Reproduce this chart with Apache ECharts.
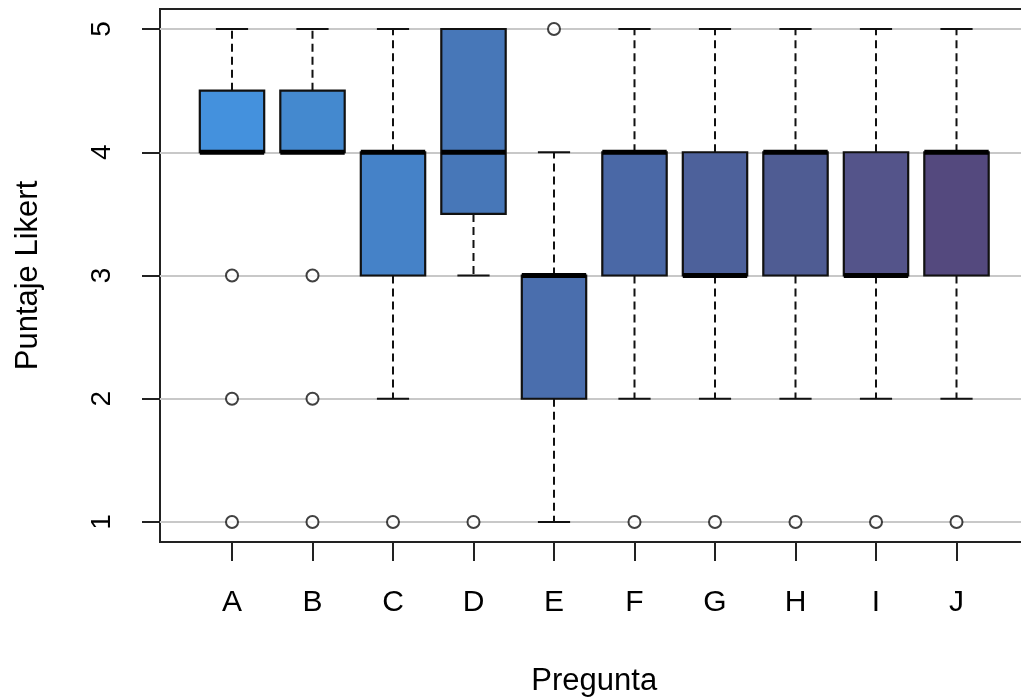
<!DOCTYPE html>
<html lang="en">
  <head>
    <meta charset="UTF-8" />
    <title>Puntaje Likert por pregunta</title>
    <script src="https://cdn.jsdelivr.net/npm/echarts@6.0.0/dist/echarts.min.js"></script>
    <style>
      html, body { margin: 0; padding: 0; background: #fff; }
    </style>
  </head>
  <body>
    <div id="main" style="width: 1021px; height: 698px"></div>
    <script type="text/javascript">
      // Boxplot stats
      const categories = ['A', 'B', 'C', 'D', 'E', 'F', 'G', 'H', 'I', 'J'];
      const whiskerLow = [4, 4, 2, 3, 1, 2, 2, 2, 2, 2];
      const q1 = [4, 4, 3, 3.5, 2, 3, 3, 3, 3, 3];
      const median = [4, 4, 4, 4, 3, 4, 3, 4, 3, 4];
      const q3 = [4.5, 4.5, 4, 5, 3, 4, 4, 4, 4, 4];
      const whiskerHigh = [5, 5, 5, 5, 4, 5, 5, 5, 5, 5];
      const outliers = [[3, 2, 1], [3, 2, 1], [1], [1], [5], [1], [1], [1], [1], [1]];
      const boxColors = ['#4491dd', '#4489cf', '#4582c8', '#4777b8', '#4a6ead',
                         '#4a68a6', '#4d619b', '#4f5c93', '#54548a', '#54497e'];
      const yTicks = [1, 2, 3, 4, 5];

      const font = 'Liberation Sans, Arial, sans-serif';
      let myChart = echarts.init(document.getElementById('main'));

      const boxData = categories.map((c, i) =>
        [i, whiskerLow[i], q1[i], median[i], q3[i], whiskerHigh[i]]);
      const outlierData = [];
      outliers.forEach((arr, i) => arr.forEach(v => outlierData.push([i, v])));

      function renderBox(params, api) {
        const i = api.value(0);
        const band = api.size([1, 0])[0];
        const hw = band * 0.4;
        const sw = hw * 0.5;
        const x = api.coord([i, 0])[0];
        const yLo = api.coord([i, api.value(1)])[1];
        const yQ1 = api.coord([i, api.value(2)])[1];
        const yMed = api.coord([i, api.value(3)])[1];
        const yQ3 = api.coord([i, api.value(4)])[1];
        const yHi = api.coord([i, api.value(5)])[1];
        const dashed = { stroke: '#111', lineWidth: 2, lineDash: [8, 5] };
        const solid = { stroke: '#111', lineWidth: 2 };
        return {
          type: 'group',
          children: [
            { type: 'line', shape: { x1: x, y1: yQ3, x2: x, y2: yHi }, style: dashed },
            { type: 'line', shape: { x1: x, y1: yQ1, x2: x, y2: yLo }, style: dashed },
            { type: 'line', shape: { x1: x - sw, y1: yHi, x2: x + sw, y2: yHi }, style: solid },
            { type: 'line', shape: { x1: x - sw, y1: yLo, x2: x + sw, y2: yLo }, style: solid },
            {
              type: 'rect',
              shape: { x: x - hw, y: yQ3, width: hw * 2, height: yQ1 - yQ3 },
              style: { fill: boxColors[i], stroke: '#111', lineWidth: 2.2 }
            },
            {
              type: 'line',
              shape: { x1: x - hw, y1: yMed, x2: x + hw, y2: yMed },
              style: { stroke: '#000', lineWidth: 5 }
            }
          ]
        };
      }

      let options = {
        animation: false,
        grid: [
          // boxes
          { left: 191.75, top: 29, width: 805, height: 493, outerBoundsMode: 'none' },
          // y axis + gridlines
          { left: 160, top: 29, width: 869, height: 493, outerBoundsMode: 'none' },
          // frame (R box)
          { left: 160, top: 9, width: 869, height: 533, show: true, outerBoundsMode: 'none',
            borderColor: '#222', borderWidth: 2, backgroundColor: 'transparent' }
        ],
        xAxis: [
          {
            gridIndex: 0,
            type: 'category',
            data: categories,
            offset: 20,
            axisLine: { show: false },
            axisTick: { show: true, alignWithLabel: true, length: 19,
                        lineStyle: { color: '#222', width: 2 } },
            axisLabel: { margin: 46, fontSize: 30, color: '#000', fontFamily: font },
            name: 'Pregunta',
            nameLocation: 'middle',
            nameGap: 124,
            nameTextStyle: { fontSize: 31, color: '#000', fontFamily: font }
          },
          { gridIndex: 1, type: 'value', show: false, min: 0, max: 1 },
          { gridIndex: 2, type: 'value', show: false, min: 0, max: 1 }
        ],
        yAxis: [
          { gridIndex: 0, type: 'value', min: 1, max: 5, show: false },
          {
            gridIndex: 1,
            type: 'value',
            min: yTicks[0],
            max: yTicks[yTicks.length - 1],
            interval: 1,
            axisLine: { show: false },
            axisTick: { show: true, length: 18, lineStyle: { color: '#222', width: 2 } },
            axisLabel: { rotate: 90, margin: 44, fontSize: 28, color: '#000', fontFamily: font },
            splitLine: { show: true, lineStyle: { color: '#c8c8c8', width: 2 } },
            name: 'Puntaje Likert',
            nameLocation: 'middle',
            nameRotate: 90,
            nameGap: 116,
            nameTextStyle: { fontSize: 31, color: '#000', fontFamily: font }
          },
          { gridIndex: 2, type: 'value', show: false, min: 0, max: 1 }
        ],
        series: [
          {
            type: 'custom',
            xAxisIndex: 0,
            yAxisIndex: 0,
            renderItem: renderBox,
            data: boxData,
            z: 3
          },
          {
            type: 'scatter',
            xAxisIndex: 0,
            yAxisIndex: 0,
            data: outlierData,
            symbol: 'circle',
            symbolSize: 12,
            itemStyle: { color: '#fff', borderColor: '#111', borderWidth: 2 },
            z: 4
          }
        ]
      };

      myChart.setOption(options);
    </script>
  </body>
</html>
